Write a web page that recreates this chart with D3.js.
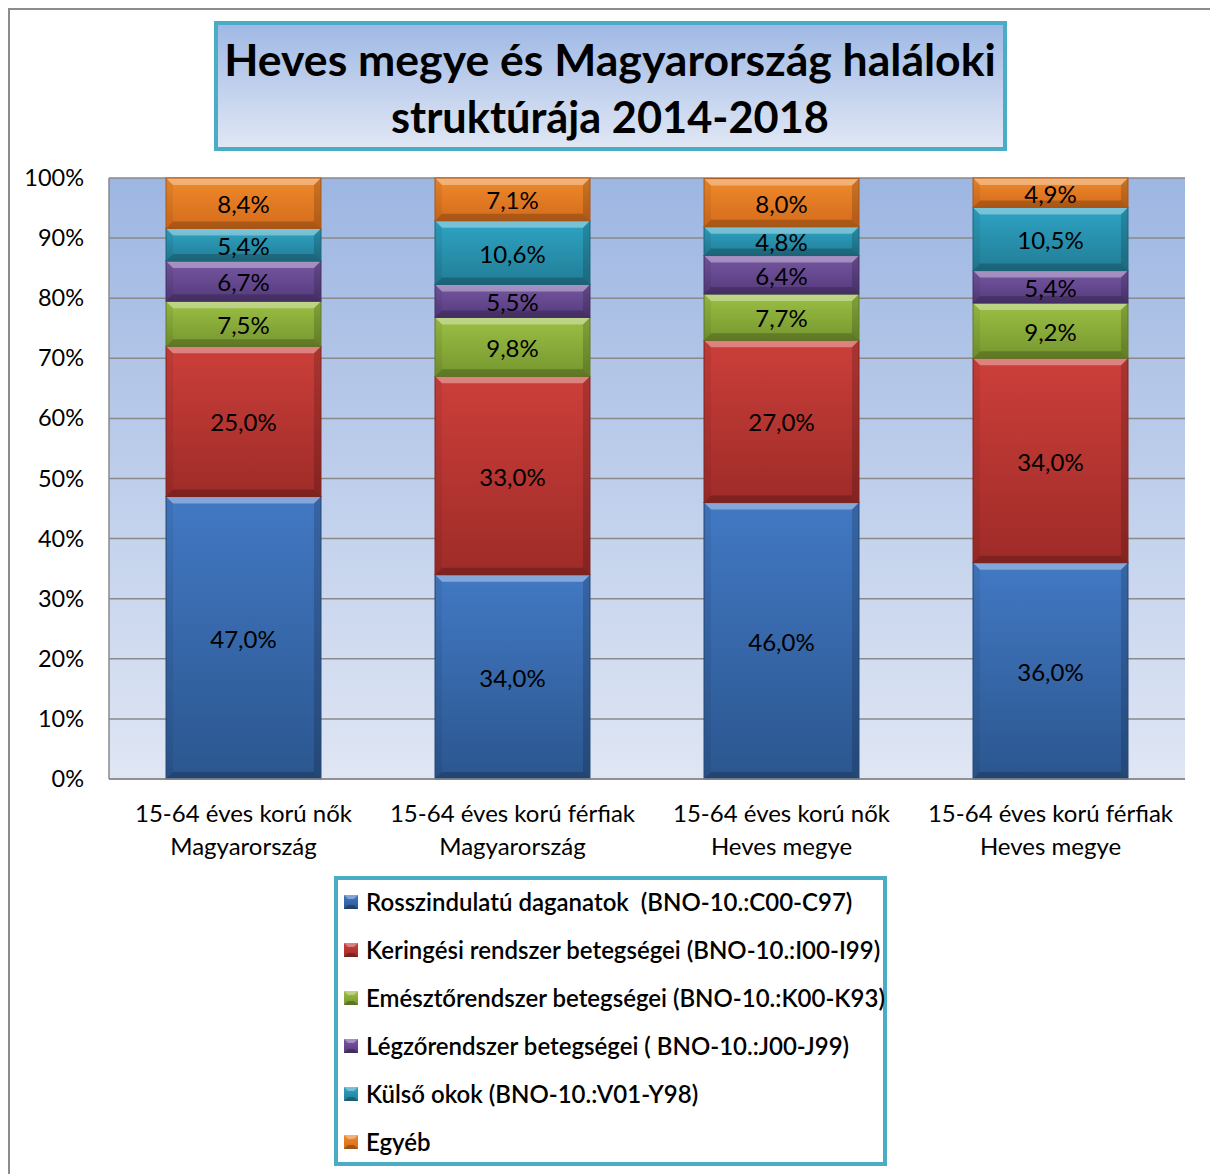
<!DOCTYPE html>
<html><head><meta charset="utf-8">
<script src="https://cdn.jsdelivr.net/npm/d3@7"></script>
<style>body{margin:0;background:#fff;} svg{display:block;} text{white-space:pre;}</style>
</head><body>
<script>
const categories = [
  ["15-64 éves korú nők", "Magyarország"],
  ["15-64 éves korú férfiak", "Magyarország"],
  ["15-64 éves korú nők", "Heves megye"],
  ["15-64 éves korú férfiak", "Heves megye"]
];
const seriesNames = [
  "Rosszindulatú daganatok  (BNO-10.:C00-C97)",
  "Keringési rendszer betegségei (BNO-10.:I00-I99)",
  "Emésztőrendszer betegségei (BNO-10.:K00-K93)",
  "Légzőrendszer betegségei ( BNO-10.:J00-J99)",
  "Külső okok (BNO-10.:V01-Y98)",
  "Egyéb"
];
const rosszindulatu = [47.0, 34.0, 46.0, 36.0];
const keringesi = [25.0, 33.0, 27.0, 34.0];
const emeszto = [7.5, 9.8, 7.7, 9.2];
const legzo = [6.7, 5.5, 6.4, 5.4];
const kulso = [5.4, 10.6, 4.8, 10.5];
const egyeb = [8.4, 7.1, 8.0, 4.9];
const seriesValues = [rosszindulatu, keringesi, emeszto, legzo, kulso, egyeb];
const yTicks = [0, 10, 20, 30, 40, 50, 60, 70, 80, 90, 100];
const titleLines = ["Heves megye és Magyarország haláloki", "struktúrája 2014-2018"];

const colors = [
  ["#4279c4", "#2b568f"],
  ["#cc3f3a", "#9e2b28"],
  ["#9bc044", "#76962f"],
  ["#7657a2", "#553a7c"],
  ["#2ea4c4", "#227d96"],
  ["#ef8a2c", "#d46b1b"]
];

const W = 1210, H = 1174;
const svg = d3.select("body").append("svg").attr("width", W).attr("height", H);
const defs = svg.append("defs");
const FONT = "Lato, 'Open Sans', sans-serif";

colors.forEach((c, i) => {
  const g = defs.append("linearGradient").attr("id", "g" + i).attr("x1", 0).attr("y1", 0).attr("x2", 0).attr("y2", 1);
  g.append("stop").attr("offset", 0).attr("stop-color", c[0]);
  g.append("stop").attr("offset", 1).attr("stop-color", c[1]);
});
const pg = defs.append("linearGradient").attr("id", "plotbg").attr("x1", 0).attr("y1", 0).attr("x2", 0).attr("y2", 1);
pg.append("stop").attr("offset", 0).attr("stop-color", "#9db6e2");
pg.append("stop").attr("offset", 1).attr("stop-color", "#dfe6f4");
const tg = defs.append("linearGradient").attr("id", "titlebg").attr("x1", 0).attr("y1", 0).attr("x2", 0).attr("y2", 1);
tg.append("stop").attr("offset", 0).attr("stop-color", "#9fb8e4");
tg.append("stop").attr("offset", 1).attr("stop-color", "#e1e8f5");

svg.append("path").attr("d", `M9,${H} L9,9 L${W},9`).attr("fill", "none").attr("stroke", "#8c8c8c").attr("stroke-width", 2);

// title
svg.append("rect").attr("x", 216).attr("y", 23).attr("width", 789).attr("height", 126)
  .attr("fill", "url(#titlebg)").attr("stroke", "#4bacc6").attr("stroke-width", 4);
const titleY = [76, 133];
const titleTarget = [772, 438];
titleLines.forEach((t, i) => {
  const el = svg.append("text").attr("x", 610).attr("y", titleY[i]).attr("text-anchor", "middle")
    .attr("font-family", FONT).attr("font-weight", "bold").attr("font-size", 40).attr("fill", "#000").text(t);
  const w = el.node().getComputedTextLength();
  el.attr("font-size", 40 * titleTarget[i] / w);
});

// plot
const plot = {left: 109, right: 1185, top: 178, bottom: 779};
const x = d3.scaleBand().domain(d3.range(categories.length)).range([plot.left, plot.right]).paddingInner(0.424).paddingOuter(0.212);
const y = d3.scaleLinear().domain([0, 100]).range([plot.bottom, plot.top]);

svg.append("rect").attr("x", plot.left).attr("y", plot.top).attr("width", plot.right - plot.left).attr("height", plot.bottom - plot.top).attr("fill", "url(#plotbg)");

svg.append("g").selectAll("line").data(yTicks).join("line")
  .attr("x1", plot.left).attr("x2", plot.right).attr("y1", d => y(d)).attr("y2", d => y(d))
  .attr("stroke", "#8a8a8a").attr("stroke-width", 1.5);
svg.append("line").attr("x1", plot.left).attr("x2", plot.left).attr("y1", plot.top).attr("y2", plot.bottom).attr("stroke", "#8a8a8a").attr("stroke-width", 1.5);

const yAxis = d3.axisLeft(y).tickValues(yTicks).tickFormat(d => d + "%").tickSize(0).tickPadding(25);
const ya = svg.append("g").attr("transform", `translate(${plot.left},0)`).call(yAxis);
ya.select(".domain").remove();
ya.selectAll("text").attr("font-family", FONT).attr("font-size", 23.5).attr("fill", "#000");

const stackData = categories.map((c, i) => {
  const o = {i};
  seriesValues.forEach((s, k) => o["s" + k] = s[i]);
  return o;
});
const stack = d3.stack().keys(seriesValues.map((s, k) => "s" + k));
const layers = stack(stackData);

const fmt = v => d3.format(".1f")(v).replace(".", ",") + "%";

const bars = svg.append("g");
layers.forEach((layer, k) => {
  layer.forEach(d => {
    const bx = x(d.data.i), bw = x.bandwidth();
    const y0 = y(d[1]), y1 = y(d[0]);
    const h = y1 - y0;
    const g = bars.append("g");
    g.append("rect").attr("x", bx).attr("y", y0).attr("width", bw).attr("height", h).attr("fill", `url(#g${k})`);
    const b = Math.min(7, h / 3);
    const poly = (pts, fill, op) => g.append("polygon").attr("points", pts.map(p => p.join(",")).join(" ")).attr("fill", fill).attr("opacity", op);
    poly([[bx, y0], [bx + bw, y0], [bx + bw - b, y0 + b], [bx + b, y0 + b]], "#fff", 0.35);
    poly([[bx, y1], [bx + bw, y1], [bx + bw - b, y1 - b], [bx + b, y1 - b]], "#000", 0.2);
    poly([[bx, y0], [bx + b, y0 + b], [bx + b, y1 - b], [bx, y1]], "#000", 0.06);
    poly([[bx + bw, y0], [bx + bw - b, y0 + b], [bx + bw - b, y1 - b], [bx + bw, y1]], "#000", 0.16);
    g.append("rect").attr("x", bx).attr("y", y0).attr("width", bw).attr("height", h).attr("fill", "none").attr("stroke", d3.color(colors[k][1]).darker(0.6)).attr("stroke-width", 1);
    g.append("text").attr("x", bx + bw / 2).attr("y", (y0 + y1) / 2).attr("dy", "0.42em").attr("text-anchor", "middle")
      .attr("font-family", FONT).attr("font-size", 24).attr("fill", "#000").text(fmt(d.data["s" + k]));
  });
});

svg.append("line").attr("x1", plot.left).attr("x2", plot.right).attr("y1", plot.bottom).attr("y2", plot.bottom).attr("stroke", "#8a8a8a").attr("stroke-width", 1.5);

const cl = svg.append("g");
categories.forEach((c, i) => {
  const cx = x(i) + x.bandwidth() / 2;
  const t = cl.append("text").attr("x", cx).attr("y", 822).attr("text-anchor", "middle")
    .attr("font-family", FONT).attr("font-size", 24).attr("fill", "#000");
  t.append("tspan").attr("x", cx).attr("dy", 0).text(c[0]);
  t.append("tspan").attr("x", cx).attr("dy", 33).text(c[1]);
});

// legend
svg.append("rect").attr("x", 336).attr("y", 878).attr("width", 549).attr("height", 286)
  .attr("fill", "#fff").attr("stroke", "#4bacc6").attr("stroke-width", 4);
const lg = svg.append("g");
seriesNames.forEach((n, k) => {
  const cy = 902 + k * 48;
  const sx = 344, s = 14, sy = cy - 7;
  lg.append("rect").attr("x", sx).attr("y", sy).attr("width", s).attr("height", s).attr("fill", `url(#g${k})`);
  const b = 4;
  lg.append("polygon").attr("points", `${sx},${sy} ${sx + s},${sy} ${sx + s - b},${sy + b} ${sx + b},${sy + b}`).attr("fill", "#fff").attr("opacity", 0.35);
  lg.append("polygon").attr("points", `${sx},${sy + s} ${sx + s},${sy + s} ${sx + s - b},${sy + s - b} ${sx + b},${sy + s - b}`).attr("fill", "#000").attr("opacity", 0.25);
  lg.append("text").attr("x", 366).attr("y", cy).attr("dy", "0.36em").attr("font-family", FONT)
    .attr("font-size", 24).attr("font-weight", 600).attr("fill", "#000").text(n);
});
</script>
</body></html>
